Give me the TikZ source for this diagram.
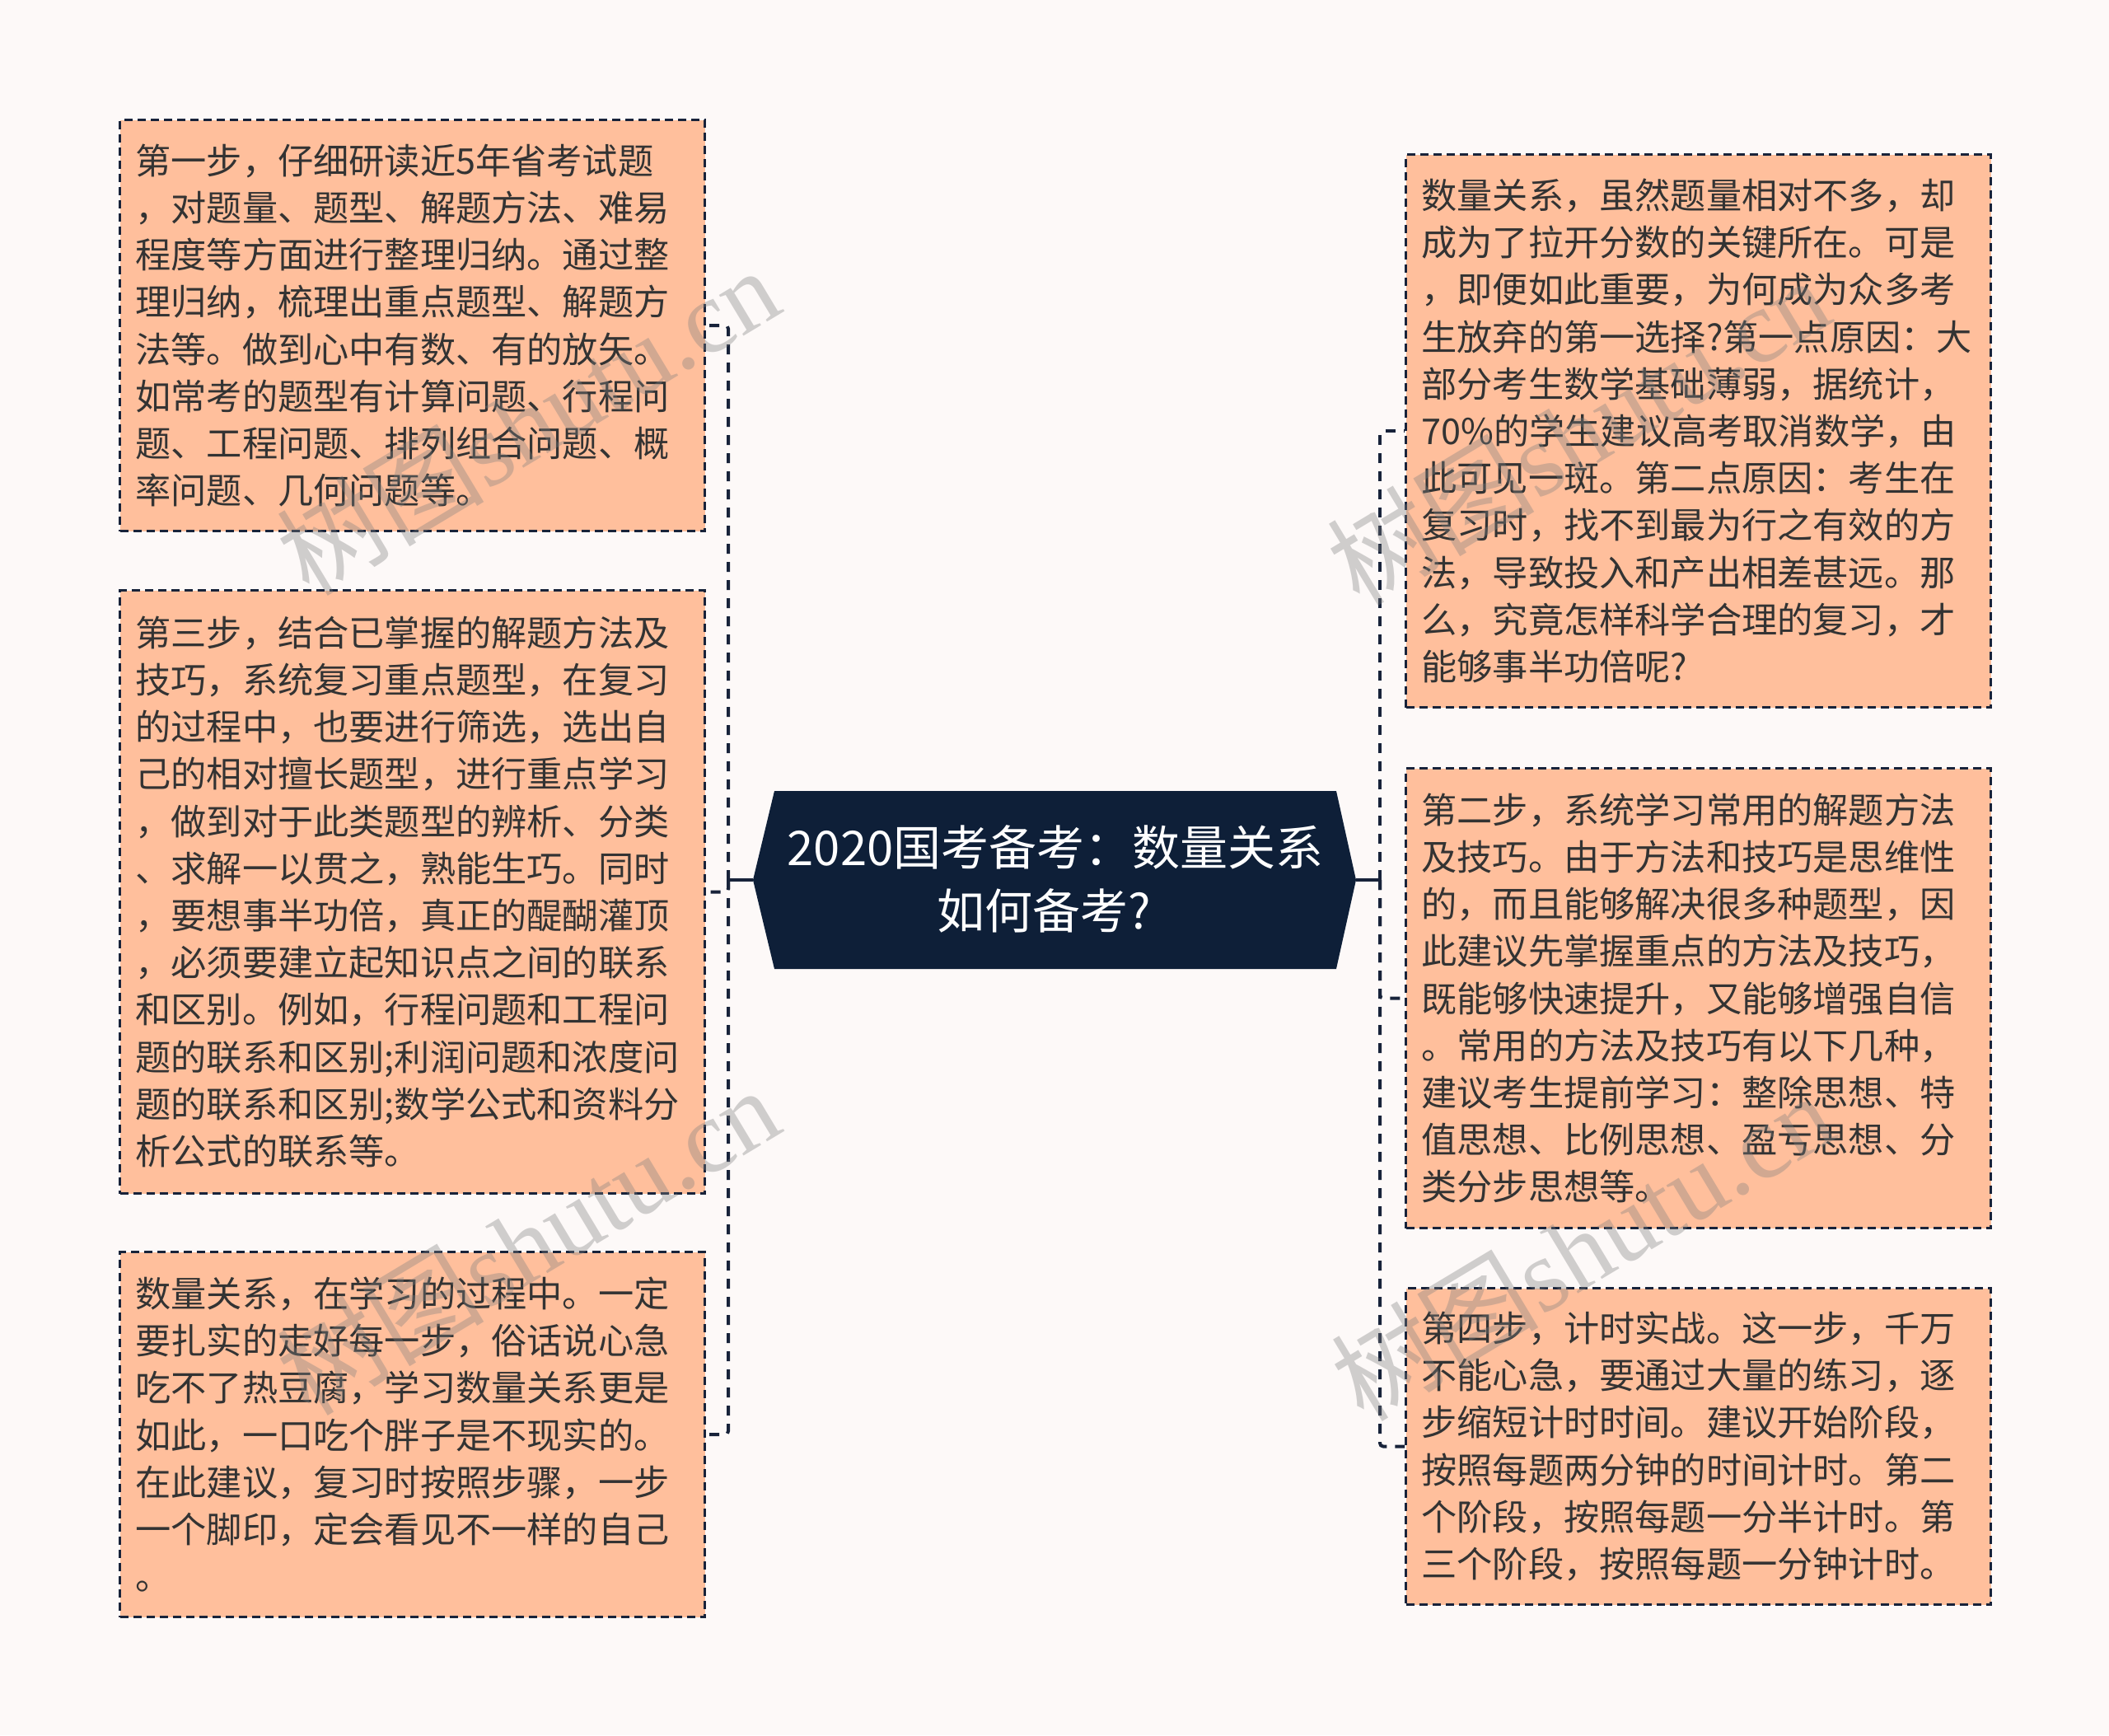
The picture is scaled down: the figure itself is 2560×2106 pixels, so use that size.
\documentclass[tikz,border=0pt]{standalone}
\usepackage{fontspec}
\setmainfont{Noto Sans CJK SC}
\newfontfamily\wmlatin{Liberation Serif}
\usetikzlibrary{calc}
\definecolor{bg}{HTML}{FDF9F8}
\definecolor{boxfill}{HTML}{FFBF9C}
\definecolor{linecol}{HTML}{18233A}
\definecolor{centerfill}{HTML}{0E1F38}
\definecolor{txt}{HTML}{333333}
\begin{document}
\begin{tikzpicture}[x=0.5pt,y=-0.5pt,
  leaf/.style={draw=linecol, line width=1.5pt, dash pattern=on 5pt off 3pt,
    fill=boxfill, text=txt, align=left, text width=336pt, inner xsep=9.5pt,
    inner ysep=0pt, minimum width=355pt, anchor=north west,
    font=\fontsize{21.6pt}{28.6pt}\selectfont},
  centertext/.style={text=white, align=center, inner sep=0pt,
    font=\fontsize{29pt}{38.5pt}\selectfont},
  stub/.style={draw=linecol, line width=2pt},
  conn/.style={draw=linecol, line width=2pt, dash pattern=on 6pt off 5pt, rounded corners=2pt},
  wm/.style={text=gray, opacity=0.36, inner sep=0pt, font=\fontsize{63pt}{63pt}\selectfont}
]
\useasboundingbox (0,0) rectangle (2560,2106);
\fill[bg] (0,0) rectangle (2560,2106);

% leaf boxes
\node[leaf, minimum height=249.5pt] (L1) at (144,144) {第一步，仔细研读近5年省考试题\\，对题量、题型、解题方法、难易\\程度等方面进行整理归纳。通过整\\理归纳，梳理出重点题型、解题方\\法等。做到心中有数、有的放矢。\\如常考的题型有计算问题、行程问\\题、工程问题、排列组合问题、概\\率问题、几何问题等。};
\node[leaf, minimum height=366pt] (L2) at (144,715) {第三步，结合已掌握的解题方法及\\技巧，系统复习重点题型，在复习\\的过程中，也要进行筛选，选出自\\己的相对擅长题型，进行重点学习\\，做到对于此类题型的辨析、分类\\、求解一以贯之，熟能生巧。同时\\，要想事半功倍，真正的醍醐灌顶\\，必须要建立起知识点之间的联系\\和区别。例如，行程问题和工程问\\题的联系和区别;利润问题和浓度问\\题的联系和区别;数学公式和资料分\\析公式的联系等。};
\node[leaf, minimum height=221.5pt] (L3) at (144,1518) {数量关系，在学习的过程中。一定\\要扎实的走好每一步，俗话说心急\\吃不了热豆腐，学习数量关系更是\\如此，一口吃个胖子是不现实的。\\在此建议，复习时按照步骤，一步\\一个脚印，定会看见不一样的自己\\。};
\node[leaf, minimum height=335.5pt] (R1) at (1705,186) {数量关系，虽然题量相对不多，却\\成为了拉开分数的关键所在。可是\\，即便如此重要，为何成为众多考\\生放弃的第一选择?第一点原因：大\\部分考生数学基础薄弱，据统计，\\70\%的学生建议高考取消数学，由\\此可见一斑。第二点原因：考生在\\复习时，找不到最为行之有效的方\\法，导致投入和产出相差甚远。那\\么，究竟怎样科学合理的复习，才\\能够事半功倍呢?};
\node[leaf, minimum height=279pt] (R2) at (1705,931) {第二步，系统学习常用的解题方法\\及技巧。由于方法和技巧是思维性\\的，而且能够解决很多种题型，因\\此建议先掌握重点的方法及技巧，\\既能够快速提升，又能够增强自信\\。常用的方法及技巧有以下几种，\\建议考生提前学习：整除思想、特\\值思想、比例思想、盈亏思想、分\\类分步思想等。};
\node[leaf, minimum height=192pt] (R3) at (1705,1562) {第四步，计时实战。这一步，千万\\不能心急，要通过大量的练习，逐\\步缩短计时时间。建议开始阶段，\\按照每题两分钟的时间计时。第二\\个阶段，按照每题一分半计时。第\\三个阶段，按照每题一分钟计时。};

% center node
\fill[centerfill] (940,960) -- (1622,960) -- (1646,1068) -- (1622,1176) -- (940,1176) -- (914,1068) -- cycle;
\node[centertext] (center) at (1281,1067) {2020国考备考：数量关系\\如何备考?\rule{14pt}{0pt}};
\coordinate (cl) at (914,1068);
\coordinate (cr) at (1646,1068);
\coordinate (jl) at (884,1068);
\coordinate (jr) at (1675,1068);

% connectors
\draw[stub] (cl) -- (jl);
\draw[stub] (cr) -- (jr);
\draw[conn] (jl) |- (L1.east);
\draw[conn] (jl) |- (L2.east);
\draw[conn] (jl) |- (L3.east);
\draw[conn] (jr) |- (R1.west);
\draw[conn] (jr) |- (R2.west);
\draw[conn] (jr) |- (R3.west);

% watermarks
\node[wm, rotate=31] (wm1) at (640,510) {树图{\wmlatin shutu.cn}};
\node[wm, rotate=31] (wm2) at (640,1505) {树图{\wmlatin shutu.cn}};
\node[wm, rotate=31] (wm3) at (1915,522) {树图{\wmlatin shutu.cn}};
\node[wm, rotate=31] (wm4) at (1920,1512) {树图{\wmlatin shutu.cn}};
\end{tikzpicture}
\end{document}
